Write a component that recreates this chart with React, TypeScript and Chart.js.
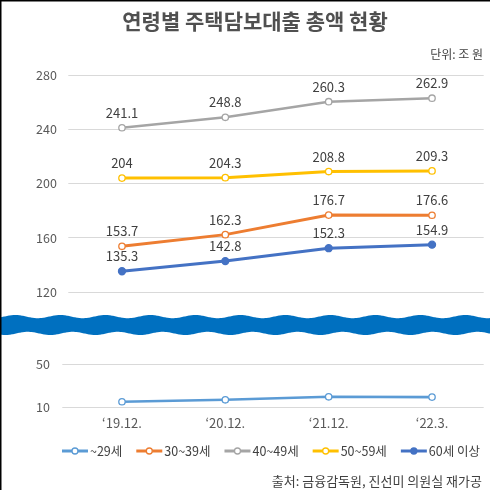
import React, { useEffect, useRef } from "react";
import { Chart, registerables } from "chart.js";

Chart.register(...registerables);

const TITLE = "연령별 주택담보대출 총액 현황";
const UNIT = "단위: 조 원";
const SOURCE = "출처: 금융감독원, 진선미 의원실 재가공";

const categories = ["‘19.12.", "‘20.12.", "‘21.12.", "‘22.3."];
const under29 = [14.9, 16.7, 19.5, 19.2];
const age30s = [153.7, 162.3, 176.7, 176.6];
const age40s = [241.1, 248.8, 260.3, 262.9];
const age50s = [204, 204.3, 208.8, 209.3];
const age60plus = [135.3, 142.8, 152.3, 154.9];

const seriesNames = ["~29세", "30~39세", "40~49세", "50~59세", "60세 이상"];
const seriesColors = ["#5b9bd5", "#ed7d31", "#a5a5a5", "#ffc000", "#4472c4"];

const topTicks = [120, 160, 200, 240, 280];
const bottomTicks = [10, 50];

const FONT = "'Noto Sans CJK KR', 'Noto Sans', sans-serif";

const decorPlugin = {
  id: "decor",
  afterDatasetsDraw(chart: any) {
    const ctx = chart.ctx;
    ctx.save();
    ctx.font = `13px ${FONT}`;
    ctx.fillStyle = "#404040";
    ctx.textAlign = "center";
    ctx.textBaseline = "middle";
    chart.data.datasets.forEach((ds: any, di: number) => {
      if (!ds.showLabels) return;
      const meta = chart.getDatasetMeta(di);
      meta.data.forEach((pt: any, i: number) => {
        ctx.fillText(String(ds.data[i]), pt.x, pt.y - 15);
      });
    });
    ctx.restore();
  },
  afterDraw(chart: any) {
    const ctx = chart.ctx;
    const W = chart.width;
    ctx.save();
    // title
    ctx.fillStyle = "#505050";
    ctx.font = `bold 21px ${FONT}`;
    ctx.textAlign = "center";
    ctx.textBaseline = "middle";
    ctx.fillText(TITLE, 255, 21);
    // unit
    ctx.font = `12px ${FONT}`;
    ctx.fillStyle = "#404040";
    ctx.textAlign = "right";
    ctx.fillText(UNIT, 483, 54);
    // source
    ctx.font = `13px ${FONT}`;
    ctx.fillText(SOURCE, 482, 481);

    // wave (axis break)
    const yTop = chart.scales.yTop;
    const yBot = chart.scales.yBot;
    const mid = (yTop.bottom + yBot.top) / 2;
    const P = 45, A = 1.6, half = 8.4;
    ctx.beginPath();
    for (let x = 0; x <= W; x += 1) {
      const y = mid - half - A * Math.sin((2 * Math.PI * (x - 4)) / P);
      if (x === 0) ctx.moveTo(x, y);
      else ctx.lineTo(x, y);
    }
    for (let x = W; x >= 0; x -= 1) {
      const y = mid + half + A * Math.sin((2 * Math.PI * (x + 6)) / P);
      ctx.lineTo(x, y);
    }
    ctx.closePath();
    ctx.fillStyle = "#0070c0";
    ctx.fill();

    // legend
    ctx.font = `12.5px ${FONT}`;
    ctx.textAlign = "left";
    ctx.textBaseline = "middle";
    const lineLen = 26, gapText = 2, gapItem = 14;
    const widths = seriesNames.map((n) => lineLen + gapText + ctx.measureText(n).width);
    const total = widths.reduce((a, b) => a + b, 0) + gapItem * (seriesNames.length - 1);
    let lx = 271 - total / 2;
    const ly = 451;
    chart.data.datasets.forEach((ds: any, i: number) => {
      ctx.strokeStyle = ds.borderColor;
      ctx.lineWidth = 3;
      ctx.beginPath();
      ctx.moveTo(lx, ly);
      ctx.lineTo(lx + lineLen, ly);
      ctx.stroke();
      ctx.beginPath();
      ctx.arc(lx + lineLen / 2, ly, 3, 0, Math.PI * 2);
      ctx.fillStyle = ds.pointBackgroundColor;
      ctx.fill();
      ctx.lineWidth = 1.3;
      ctx.stroke();
      ctx.fillStyle = "#404040";
      ctx.fillText(seriesNames[i], lx + lineLen + gapText, ly);
      lx += widths[i] + gapItem;
    });

    // frame
    ctx.fillStyle = "#000";
    ctx.fillRect(0, 0, W, 1.5);
    ctx.fillRect(0, 0, 1.5, chart.height);
    ctx.restore();
  },
};

export default function App() {
  const ref = useRef<HTMLCanvasElement | null>(null);

  useEffect(() => {
    document.body.style.margin = "0";
    const canvas = ref.current;
    if (!canvas) return;
    const values = [under29, age30s, age40s, age50s, age60plus];
    const datasets = values.map((data, i) => ({
      label: seriesNames[i],
      data,
      yAxisID: i === 0 ? "yBot" : "yTop",
      borderColor: seriesColors[i],
      backgroundColor: seriesColors[i],
      pointBackgroundColor: i === 4 ? seriesColors[i] : "#ffffff",
      pointBorderColor: seriesColors[i],
      pointRadius: i === 4 ? 3.5 : 3.2,
      pointBorderWidth: 1.3,
      borderWidth: i === 0 || i === 2 ? 2.6 : 3,
      tension: 0,
      showLabels: i !== 0,
    }));

    const chart = new Chart(canvas, {
      type: "line",
      data: { labels: categories, datasets: datasets as any },
      plugins: [decorPlugin],
      options: {
        animation: false,
        responsive: false,
        devicePixelRatio: 1,
        layout: { padding: { top: 75, left: 36, right: 6.3, bottom: 59 } },
        plugins: { legend: { display: false }, tooltip: { enabled: false }, title: { display: false } },
        scales: {
          x: {
            type: "category",
            offset: true,
            grid: { display: false, drawTicks: false },
            border: { display: false },
            ticks: {
              color: "#595959",
              font: { family: FONT, size: 13 },
              padding: 8,
              maxRotation: 0,
              autoSkip: false,
            },
            afterFit: (s: any) => {
              s.height = 24;
            },
          },
          yBot: {
            type: "linear",
            position: "left",
            stack: "v",
            stackWeight: 82,
            weight: 0,
            min: 10,
            max: 86.3,
            grid: { color: "#d9d9d9", lineWidth: 1, drawTicks: true, tickLength: 8, tickColor: "#d9d9d9" },
            border: { display: false },
            afterBuildTicks: (s: any) => {
              s.ticks = bottomTicks.map((v) => ({ value: v }));
            },
            ticks: {
              color: "#595959",
              font: { family: FONT, size: 12.5 },
              crossAlign: "far",
              padding: 4,
            },
            afterFit: (s: any) => {
              s.width = 34.3;
            },
          },
          yTop: {
            type: "linear",
            position: "left",
            stack: "v",
            stackWeight: 250,
            weight: 1,
            min: 95.67,
            max: 280,
            grid: { color: "#d9d9d9", lineWidth: 1, drawTicks: true, tickLength: 2, tickColor: "#d9d9d9" },
            border: { display: false },
            afterBuildTicks: (s: any) => {
              s.ticks = topTicks.map((v) => ({ value: v }));
            },
            ticks: {
              color: "#595959",
              font: { family: FONT, size: 12.5 },
              crossAlign: "far",
              padding: 4,
            },
            afterFit: (s: any) => {
              s.width = 34.3;
            },
          },
        },
      } as any,
    });
    return () => chart.destroy();
  }, []);

  return (
    <div style={{ width: 490, height: 490, background: "#fff" }}>
      <canvas ref={ref} width={490} height={490} style={{ display: "block", width: 490, height: 490 }} />
    </div>
  );
}
